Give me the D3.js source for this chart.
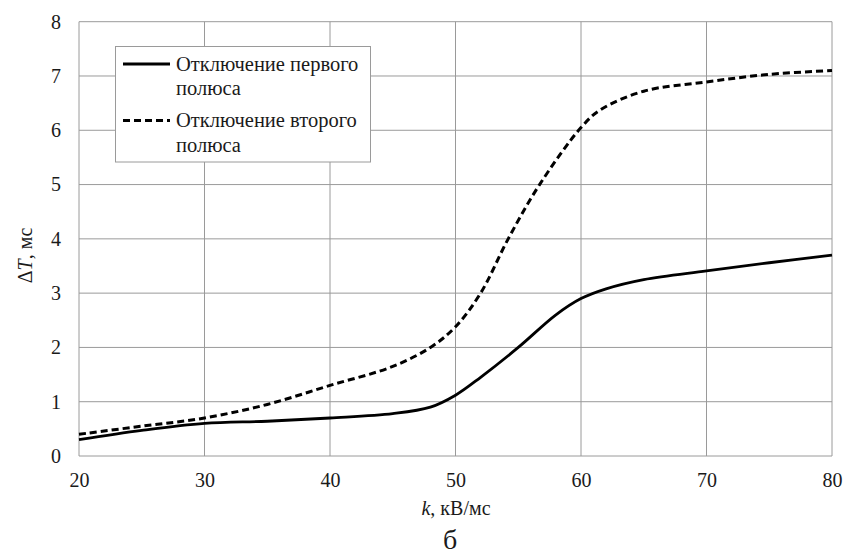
<!DOCTYPE html>
<html>
<head>
<meta charset="utf-8">
<script src="https://cdn.jsdelivr.net/npm/d3@7"></script>
<style>
  body { margin: 0; background: #fff; }
  svg text, svg tspan { font-family: 'Liberation Serif', Tinos, 'Times New Roman', serif !important; }
</style>
</head>
<body>
<script>
// data
var kFirst  = [20, 25, 30, 35, 40, 45, 48, 50, 52, 55, 58, 60, 62, 65, 70, 75, 80];
var dtFirst = [0.3, 0.47, 0.6, 0.64, 0.7, 0.78, 0.9, 1.12, 1.45, 2.0, 2.6, 2.9, 3.08, 3.25, 3.41, 3.56, 3.7];
var kSecond  = [20, 25, 30, 35, 40, 45, 48, 50, 52, 54.2, 56.7, 60, 61.5, 65, 70, 75, 80];
var dtSecond = [0.4, 0.55, 0.7, 0.95, 1.3, 1.65, 2.0, 2.38, 3.0, 4.0, 5.0, 6.05, 6.37, 6.72, 6.89, 7.03, 7.1];
var xTicks = [20, 30, 40, 50, 60, 70, 80];
var yTicks = [0, 1, 2, 3, 4, 5, 6, 7, 8];
var legendNames = ["Отключение первого|полюса", "Отключение второго|полюса"];

var W = 853, H = 556;
var mLeft = 79, mRight = 832, mTop = 21.7, mBottom = 456;
var FONT = "'Liberation Serif', Tinos, 'Times New Roman', serif";

var svg = d3.select("body").append("svg").attr("width", W).attr("height", H)
    .style("font-family", FONT);

var x = d3.scaleLinear().domain([20, 80]).range([mLeft, mRight]);
var y = d3.scaleLinear().domain([0, 8]).range([mBottom, mTop]);

// grid
svg.append("g").selectAll("line").data(xTicks).join("line")
    .attr("x1", d => x(d)).attr("x2", d => x(d))
    .attr("y1", mTop).attr("y2", mBottom)
    .attr("stroke", "#9a9a9a").attr("stroke-width", 1);
svg.append("g").selectAll("line").data(yTicks).join("line")
    .attr("x1", mLeft).attr("x2", mRight)
    .attr("y1", d => y(d)).attr("y2", d => y(d))
    .attr("stroke", "#9a9a9a").attr("stroke-width", 1);

// tick labels
var xAxis = d3.axisBottom(x).tickValues(xTicks).tickSize(0).tickPadding(16.5);
svg.append("g").attr("transform", "translate(0," + mBottom + ")").call(xAxis)
    .attr("font-family", null)
    .call(g => g.select(".domain").remove())
    .selectAll("text").attr("fill", "#1a1a1a")
    .style("font-family", FONT).style("font-size", "20px");

var yAxis = d3.axisLeft(y).tickValues(yTicks).tickSize(0).tickPadding(18);
svg.append("g").attr("transform", "translate(" + mLeft + ",0)").call(yAxis)
    .attr("font-family", null)
    .call(g => g.select(".domain").remove())
    .selectAll("text").attr("fill", "#1a1a1a")
    .style("font-family", FONT).style("font-size", "20px");

// curves
var line = d3.line().x(d => x(d[0])).y(d => y(d[1])).curve(d3.curveCatmullRom.alpha(0.5));

svg.append("path").datum(d3.zip(kFirst, dtFirst))
    .attr("d", line).attr("fill", "none")
    .attr("stroke", "#000").attr("stroke-width", 2.8);

svg.append("path").datum(d3.zip(kSecond, dtSecond))
    .attr("d", line).attr("fill", "none")
    .attr("stroke", "#000").attr("stroke-width", 3)
    .attr("stroke-dasharray", "7,4");

// legend
var lg = svg.append("g");
lg.append("rect").attr("x", 115.5).attr("y", 46.5).attr("width", 255).attr("height", 115.5)
    .attr("fill", "#fff").attr("stroke", "#9a9a9a").attr("stroke-width", 1);

var rows = [
  {dash: null, y0: 64, base: 70.5},
  {dash: "7,4", y0: 120.5, base: 127}
];
rows.forEach(function(r, i) {
  lg.append("line").attr("x1", 123).attr("x2", 170).attr("y1", r.y0).attr("y2", r.y0)
    .attr("stroke", "#000").attr("stroke-width", 3)
    .attr("stroke-dasharray", r.dash);
  var parts = legendNames[i].split("|");
  parts.forEach(function(p, j) {
    lg.append("text").attr("x", 176).attr("y", r.base + j * 24.5)
      .style("font-family", FONT).style("font-size", "20.5px").attr("fill", "#1a1a1a")
      .text(p);
  });
});

// axis titles
var yt = svg.append("text").attr("transform", "translate(32,255.5) rotate(-90)")
    .attr("text-anchor", "middle").style("font-family", FONT)
    .style("font-size", "20px").attr("fill", "#1a1a1a");
yt.append("tspan").text("Δ");
yt.append("tspan").style("font-style", "italic").text("T");
yt.append("tspan").text(", мс");

var xt = svg.append("text").attr("x", 456).attr("y", 515)
    .attr("text-anchor", "middle").style("font-family", FONT)
    .style("font-size", "20px").attr("fill", "#1a1a1a");
xt.append("tspan").style("font-style", "italic").text("k");
xt.append("tspan").text(", кВ/мс");

svg.append("text").attr("x", 450).attr("y", 549).attr("text-anchor", "middle")
    .style("font-family", FONT).style("font-size", "28px").attr("fill", "#1a1a1a")
    .text("б");
</script>
</body>
</html>
